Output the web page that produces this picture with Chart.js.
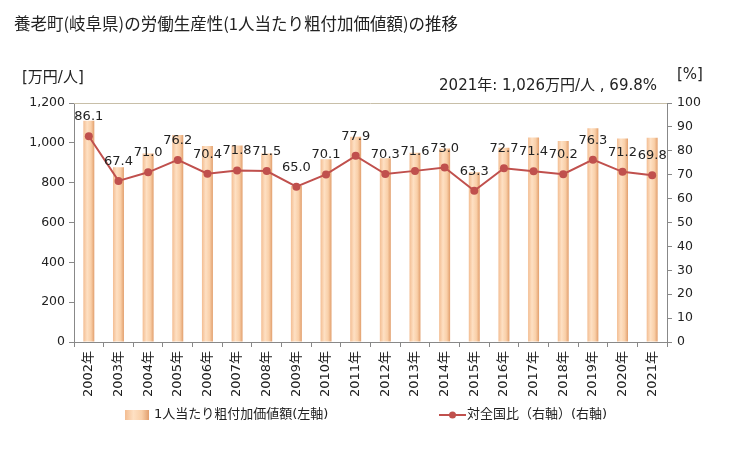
<!DOCTYPE html>
<html>
<head>
<meta charset="utf-8">
<script src="https://cdn.jsdelivr.net/npm/chart.js@4"></script>
<style>
  html, body { margin: 0; padding: 0; background: #fff; }
  #wrap { position: relative; width: 729px; height: 450px; }
</style>
</head>
<body>
<div id="wrap"><canvas id="chart" width="729" height="450"></canvas></div>
<script>
const years      = ['2002年','2003年','2004年','2005年','2006年','2007年','2008年','2009年','2010年','2011年',
                    '2012年','2013年','2014年','2015年','2016年','2017年','2018年','2019年','2020年','2021年'];
const perWorker  = [1111, 877, 947, 1039, 984, 987, 947, 783, 917, 1031,
                    922, 950, 972, 852, 975, 1027, 1009, 1073, 1022, 1026];
const ratio      = [86.1, 67.4, 71.0, 76.2, 70.4, 71.8, 71.5, 65.0, 70.1, 77.9,
                    70.3, 71.6, 73.0, 63.3, 72.7, 71.4, 70.2, 76.3, 71.2, 69.8];
const leftTicks  = [0, 200, 400, 600, 800, 1000, 1200];
const rightTicks = [0, 10, 20, 30, 40, 50, 60, 70, 80, 90, 100];

const FONT = '"DejaVu Sans", "Noto Sans CJK JP", sans-serif';
const lineColor = '#c0504d';
const textColor = '#222';
const barPct = 0.37;

function barGradient(ctx, x0, x1) {
    const g = ctx.createLinearGradient(x0, 0, x1, 0);
    g.addColorStop(0, '#f3bd92');
    g.addColorStop(0.35, '#fee0c3');
    g.addColorStop(0.7, '#f9cfa8');
    g.addColorStop(1, '#e29f6d');
    return g;
}

// fixed plot area like the original
const plotArea = { left: 74, right: 667, top: 103, bottom: 342 };

const extras = {
    id: 'extras',
    afterDatasetsDraw(chart) {
        const ctx = chart.ctx;
        const meta = chart.getDatasetMeta(0);
        ctx.save();
        ctx.font = '13px ' + FONT;
        ctx.fillStyle = textColor;
        ctx.textAlign = 'center';
        ctx.textBaseline = 'alphabetic';
        meta.data.forEach((pt, i) => {
            ctx.fillText(ratio[i].toFixed(1), pt.x, pt.y - 16);
        });
        ctx.restore();
    },
    afterDraw(chart) {
        const ctx = chart.ctx;
        const a = chart.chartArea;
        ctx.save();
        // top border
        ctx.strokeStyle = '#c8bfa8';
        ctx.lineWidth = 1;
        ctx.beginPath();
        ctx.moveTo(a.left, a.top + 0.5);
        ctx.lineTo(a.right, a.top + 0.5);
        ctx.stroke();

        ctx.fillStyle = textColor;
        ctx.font = '16.5px "Noto Sans CJK JP", sans-serif';
        ctx.textAlign = 'left';
        ctx.textBaseline = 'middle';
        ctx.fillText('養老町(岐阜県)の労働生産性(1人当たり粗付加価値額)の推移', 14, 24);

        ctx.font = '15px ' + FONT;
        ctx.fillText('[万円/人]', 22, 78);
        ctx.fillText('[%]', 677, 75);
        ctx.textAlign = 'right';
        ctx.fillText('2021年: 1,026万円/人 , 69.8%', 657, 86);

        // legend
        const ly = 415;
        ctx.fillStyle = barGradient(ctx, 125, 149);
        ctx.fillRect(125, ly - 5, 24, 10);
        ctx.fillStyle = textColor;
        ctx.textAlign = 'left';
        ctx.font = '13px ' + FONT;
        ctx.fillText('1人当たり粗付加価値額(左軸)', 154, ly);

        ctx.strokeStyle = lineColor;
        ctx.lineWidth = 2;
        ctx.beginPath();
        ctx.moveTo(439, ly);
        ctx.lineTo(466, ly);
        ctx.stroke();
        ctx.fillStyle = lineColor;
        ctx.beginPath();
        ctx.arc(452.5, ly, 3.5, 0, Math.PI * 2);
        ctx.fill();
        ctx.fillStyle = textColor;
        ctx.fillText('対全国比（右軸）(右軸)', 467, ly);
        ctx.restore();
    }
};

new Chart(document.getElementById('chart'), {
    data: {
        labels: years,
        datasets: [
            {
                type: 'line',
                label: '対全国比（右軸）(右軸)',
                data: ratio,
                yAxisID: 'y1',
                borderColor: lineColor,
                backgroundColor: lineColor,
                borderWidth: 2,
                pointRadius: 4,
                pointBorderWidth: 0,
                tension: 0,
                order: 0
            },
            {
                type: 'bar',
                label: '1人当たり粗付加価値額(左軸)',
                data: perWorker,
                yAxisID: 'y',
                barPercentage: barPct,
                categoryPercentage: 1,
                backgroundColor: (c) => {
                    const xs = c.chart.scales.x;
                    if (!xs || c.dataIndex === undefined) return '#fcd5b0';
                    const cx = xs.getPixelForValue(c.dataIndex);
                    const w = (xs.width / years.length) * barPct;
                    if (!isFinite(cx) || !isFinite(w) || w <= 0) return '#fcd5b0';
                    return barGradient(c.chart.ctx, cx - w / 2, cx + w / 2);
                },
                borderWidth: 0,
                order: 1
            }
        ]
    },
    options: {
        responsive: false,
        animation: false,
        layout: { padding: { top: plotArea.top, bottom: 0, left: 0, right: 0 } },
        plugins: {
            legend: { display: false },
            tooltip: { enabled: false }
        },
        scales: {
            x: {
                offset: true,
                grid: { display: true, drawOnChartArea: false, offset: true, tickLength: 5, color: '#888' },
                border: { color: '#888' },
                ticks: { font: { size: 13, family: FONT }, color: textColor, maxRotation: 90, minRotation: 90, autoSkip: false, padding: 4 },
                afterFit(s) { s.height = 450 - plotArea.bottom; }
            },
            y: {
                position: 'left',
                min: 0, max: 1200,
                afterBuildTicks(s) { s.ticks = leftTicks.map(v => ({ value: v })); },
                grid: { drawOnChartArea: false, tickLength: 5, color: '#888' },
                border: { color: '#888' },
                ticks: { font: { size: 12.5, family: FONT }, color: textColor, padding: 4,
                         callback: v => v.toLocaleString('en-US') },
                afterFit(s) { s.width = plotArea.left; }
            },
            y1: {
                position: 'right',
                min: 0, max: 100,
                afterBuildTicks(s) { s.ticks = rightTicks.map(v => ({ value: v })); },
                grid: { drawOnChartArea: false, tickLength: 5, color: '#888' },
                border: { color: '#888' },
                ticks: { font: { size: 12.5, family: FONT }, color: textColor, padding: 5 },
                afterFit(s) { s.width = 729 - plotArea.right; }
            }
        }
    },
    plugins: [extras]
});
</script>
</body>
</html>
